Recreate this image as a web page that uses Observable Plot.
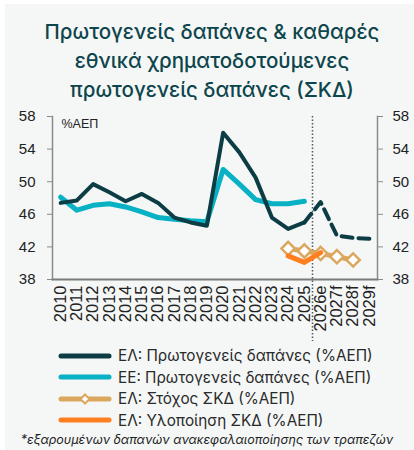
<!DOCTYPE html>
<html><head><meta charset="utf-8">
<script src="https://cdn.jsdelivr.net/npm/d3@7"></script>
<script src="https://cdn.jsdelivr.net/npm/@observablehq/plot@0.6"></script>
<style>
body{margin:0;background:#fff;width:414px;height:450px;overflow:hidden;position:relative;font-family:Arial,"Liberation Sans",sans-serif}
#panel{position:absolute;left:5px;top:4px;right:0;bottom:0;background:#f5f7f7}
#title{position:absolute;left:5px;width:414px;top:17px;text-align:center;font-family:Inter,sans-serif;font-size:20.5px;line-height:29px;color:#0d454c;font-weight:500}
#chart{position:absolute;left:0;top:106px}
#legend{position:absolute;left:58px;top:345px;font-family:Inter,sans-serif;font-size:15.3px;color:#2a2a2a}
.row{height:21.5px;display:flex;align-items:center;white-space:nowrap}
.row svg{margin-right:6px}
#note{position:absolute;left:0;width:414px;top:432px;text-align:center;font-family:Inter,sans-serif;font-style:italic;font-size:12.5px;color:#222}
</style></head>
<body>
<div id="panel"></div>
<div id="title">Πρωτογενείς δαπάνες &amp; καθαρές<br>εθνικά χρηματοδοτούμενες<br>πρωτογενείς δαπάνες (ΣΚΔ)</div>
<div id="chart"></div>
<div id="legend"></div>
<div id="note">*εξαρουμένων δαπανών ανακεφαλαιοποίησης των τραπεζών</div>
<script>
const years = ["2010","2011","2012","2013","2014","2015","2016","2017","2018","2019","2020","2021","2022","2023","2024","2025","2026e","2027f","2028f","2029f"];
const yTicks = [38,42,46,50,54,58];
// ΕΛ: Πρωτογενείς δαπάνες, 2010–2025 (actual)
const elHist = [47.4,47.7,49.7,48.7,47.6,48.5,47.4,45.6,45.0,44.6,56.0,53.6,50.5,45.6,44.2,45.0];
// ΕΛ: Πρωτογενείς δαπάνες, 2025–2029f (forecast)
const elFcYears = ["2025","2026e","2027f","2028f","2029f"];
const elFc = [45.0,47.5,43.4,43.1,43.0];
// ΕΕ: Πρωτογενείς δαπάνες, 2010–2025
const euHist = [48.1,46.5,47.1,47.3,46.9,46.3,45.6,45.4,45.2,45.1,51.5,49.7,47.8,47.3,47.3,47.6];
// ΕΛ: Στόχος ΣΚΔ
const targetYears = ["2024","2025","2026e","2027f","2028f"];
const target = [41.8,41.5,41.2,40.8,40.4];
// ΕΛ: Υλοποίηση ΣΚΔ
const realYears = ["2024","2025","2026e"];
const real = [40.9,40.1,41.3];
const splitAfter = "2025";

const legendItems = [
  {label:"ΕΛ: Πρωτογενείς δαπάνες (%ΑΕΠ)", color:"#0c3c44", marker:false},
  {label:"ΕΕ: Πρωτογενείς δαπάνες (%ΑΕΠ)", color:"#08b1c3", marker:false},
  {label:"ΕΛ: Στόχος ΣΚΔ (%ΑΕΠ)", color:"#dba75e", marker:true},
  {label:"ΕΛ: Υλοποίηση ΣΚΔ (%ΑΕΠ)", color:"#ff7f1e", marker:false}
];
const C = {el:"#0c3c44", eu:"#08b1c3", tgt:"#dba75e", real:"#ff7f1e"};

const idx = y => years.indexOf(y);
const histRows = elHist.map((v,i)=>({x:i, el:v, eu:euHist[i]}));
const fcRows = elFc.map((v,i)=>({x:idx(elFcYears[i]), v}));
const tgtRows = target.map((v,i)=>({x:idx(targetYears[i]), v}));
const realRows = real.map((v,i)=>({x:idx(realYears[i]), v}));

const axisCommon = {ticks:yTicks, tickSize:5, label:null, stroke:"#8a8a8a", color:"#222", fontSize:15};

const chart = Plot.plot({
  width:414, height:235, marginLeft:52, marginRight:37, marginTop:10, marginBottom:62,
  style:{background:"transparent", fontFamily:"Arial, 'Liberation Sans', sans-serif", fontSize:"15px", color:"#222", overflow:"visible"},
  x:{type:"linear", domain:[-0.5, years.length-0.5]},
  y:{domain:[yTicks[0], yTicks[yTicks.length-1]]},
  marks:[
    Plot.frame({anchor:"left", stroke:"#8a8a8a", strokeWidth:1.5}),
    Plot.frame({anchor:"right", stroke:"#8a8a8a", strokeWidth:1.5}),
    Plot.frame({anchor:"bottom", stroke:"#7a7a7a", strokeWidth:2}),
    Plot.axisY({...axisCommon, anchor:"left", tickPadding:12}),
    Plot.axisY({...axisCommon, anchor:"right", tickPadding:10}),
    Plot.axisX({ticks:d3.range(years.length), tickFormat:i=>years[i], tickRotate:-90, tickSize:0, tickPadding:6, label:null, fontSize:16.5, color:"#222"}),
    Plot.ruleX([idx(splitAfter)+0.5], {stroke:"#555", strokeWidth:1.5, strokeDasharray:"1.5,2", insetBottom:-62}),
    Plot.text(["%ΑΕΠ"], {frameAnchor:"top-left", dx:9, dy:3, fontSize:12.5, fill:"#222", textAnchor:"start"}),
    Plot.line(histRows, {x:"x", y:"eu", stroke:C.eu, strokeWidth:5}),
    Plot.line(histRows, {x:"x", y:"el", stroke:C.el, strokeWidth:4}),
    Plot.line(fcRows, {x:"x", y:"v", stroke:C.el, strokeWidth:4, strokeDasharray:"11,6"}),
    Plot.line(tgtRows, {x:"x", y:"v", stroke:C.tgt, strokeWidth:5}),
    Plot.dot(tgtRows, {x:"x", y:"v", symbol:"diamond2", r:6, fill:"white", stroke:C.tgt, strokeWidth:2.5}),
    Plot.line(realRows, {x:"x", y:"v", stroke:C.real, strokeWidth:5})
  ]
});
document.getElementById("chart").appendChild(chart);

const leg = document.getElementById("legend");
for (const it of legendItems) {
  const row = document.createElement("div");
  row.className = "row";
  row.innerHTML = `<svg width="54" height="12"><line x1="3" x2="51" y1="6" y2="6" stroke="${it.color}" stroke-width="5" stroke-linecap="round"/>${it.marker?`<path d="M27,1.5 L31.5,6 L27,10.5 L22.5,6Z" fill="white" stroke="${it.color}" stroke-width="2"/>`:""}</svg><span>${it.label}</span>`;
  leg.appendChild(row);
}
</script>
</body></html>
